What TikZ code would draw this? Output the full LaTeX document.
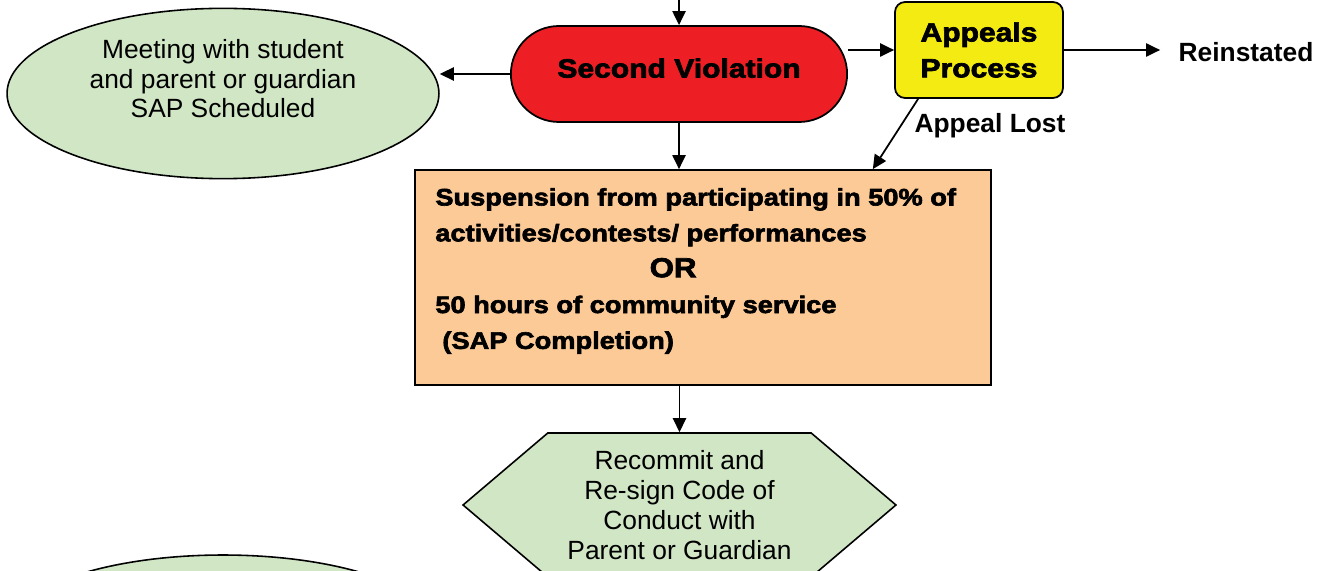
\documentclass[tikz,border=0pt]{standalone}
\usepackage{fontspec}
\setmainfont{Liberation Sans}
\newfontfamily\heavyfont{Liberation Sans}[FakeBold=2.6,FakeStretch=1.14]
\usepackage{xcolor}
\usepackage{tikz}
\usetikzlibrary{shapes.geometric, shapes.misc, shapes.symbols, arrows.meta, positioning, calc}
\definecolor{violred}{HTML}{ED1F24}
\definecolor{appyellow}{HTML}{F3EB12}
\definecolor{sapgreen}{HTML}{D0E6C5}
\definecolor{susppeach}{HTML}{FBCA97}
\tikzset{
    meeting/.style={ellipse, draw, line width=0.9pt, fill=sapgreen, minimum width=8.64cm, minimum height=3.04cm, align=center, font=\fontsize{15}{17}\selectfont},
    violation/.style={rounded rectangle, draw, line width=1pt, fill=violred, minimum width=6.96cm, minimum height=1.92cm, font=\heavyfont\bfseries\fontsize{15}{17}\selectfont},
    appeal/.style={rectangle, draw, line width=1pt, fill=appyellow, rounded corners=0.2cm, minimum width=3.36cm, minimum height=1.92cm, align=center, font=\heavyfont\bfseries\fontsize{15}{20.4}\selectfont},
    penalty/.style={rectangle, draw, line width=1pt, fill=susppeach, minimum width=11.52cm, minimum height=4.3cm},
    recommitbox/.style={signal, signal to=east and west, signal pointer angle=80.7, draw, line width=0.9pt, fill=sapgreen, minimum width=8.66cm, minimum height=2.88cm, align=center, font=\fontsize{15}{17}\selectfont},
    outcome/.style={font=\bfseries\fontsize{15}{17}\selectfont},
    arrow/.style={-{Triangle[length=8pt,width=7.5pt]}, line width=1pt},
}
\begin{document}
\begin{tikzpicture}[x=0.02cm, y=-0.02cm]
    \useasboundingbox (0,0) rectangle (1323,571);
    \clip (0,0) rectangle (1323,571);

    % Second violation and meeting
    \coordinate (entry) at (679,-2);
    \node[violation, text depth=0.24cm] (second) at (679,74) {Second Violation};
    \node[meeting] (meet) at (223,93.5) {Meeting with student\\and parent or guardian\\SAP Scheduled\\\mbox{}};

    % Appeals
    \node[appeal] (appeals) at (979,50) {\raisebox{-4pt}{Appeals}\\\raisebox{-4pt}{Process}};
    \node[outcome] (reinstated) at (1246,52) {Reinstated};
    \node[outcome] (lost) at (990,126) {Appeal Lost};

    % Suspension
    \node[penalty] (susp) at (703,277.5) {};
    \node[anchor=west, inner sep=0pt, align=left, font=\heavyfont\bfseries\fontsize{13.6}{20.4}\selectfont] (susptext) at (435,271)
        {Suspension from participating in 50\% of\\activities/contests/ performances\\\hspace*{122pt}{\fontsize{15.6}{20.4}\selectfont OR}\\50 hours of community service\\\hspace*{4pt}(SAP Completion)};

    % Recommit
    \node[recommitbox] (recommit) at (679.5,505) {Recommit and\\Re-sign Code of\\Conduct with\\Parent or Guardian};
    \node[meeting] (meet2) at (223,631) {};

    \draw[arrow] (entry) -- (second);
    \draw[arrow] (second.west) -- (second.west -| meet.east);
    \draw[arrow] (second.east |- appeals.west) -- (appeals.west);
    \draw[arrow, shorten >=7pt] (appeals.east) -- (appeals.east -| reinstated.west);
    \draw[arrow] ($(appeals.south west)+(24,0)$) -- ($(susp.north east)+(-119,0)$);
    \draw[arrow] (second.south) -- (second.south |- susp.north);
    \draw[arrow] (recommit.north |- susp.south) -- (recommit.north);
\end{tikzpicture}
\end{document}
